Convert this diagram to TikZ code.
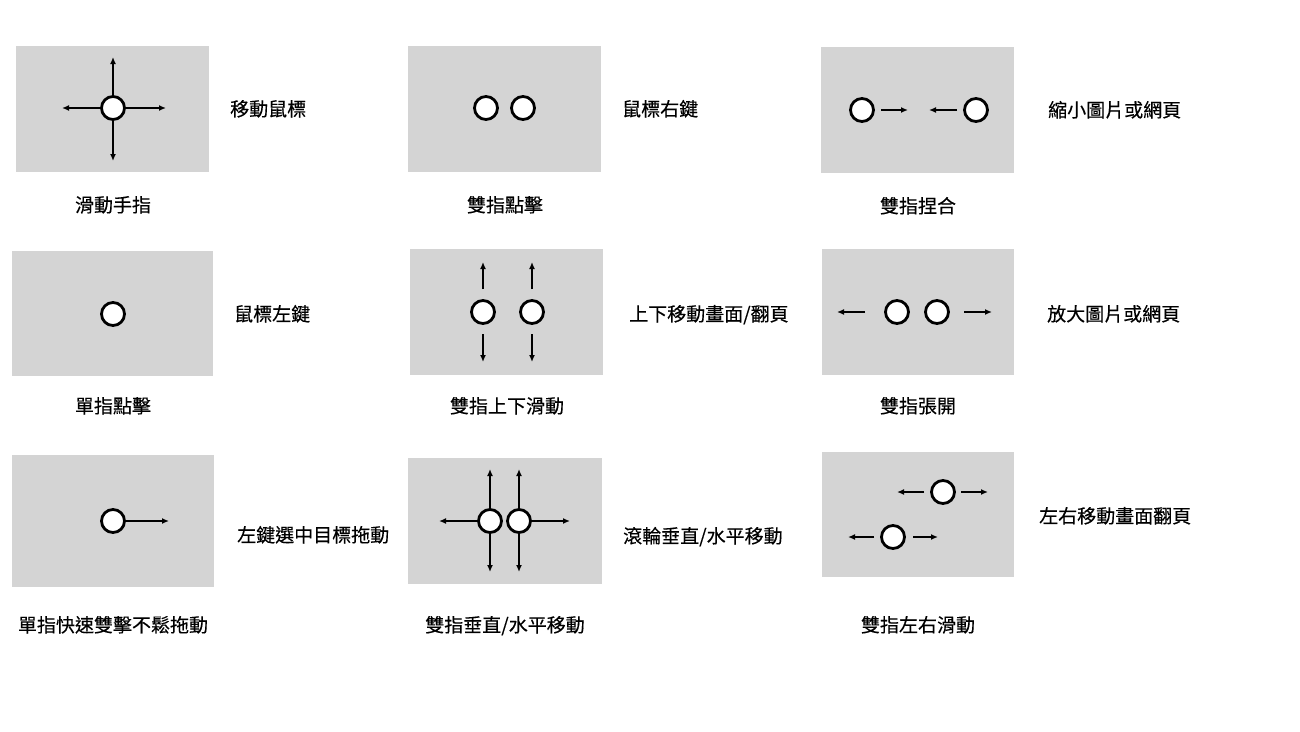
\documentclass[tikz,border=0pt]{standalone}
\usepackage{fontspec}
\setmainfont{Noto Sans CJK TC}[FakeBold=0.3]
\usetikzlibrary{arrows.meta}
\definecolor{boxgray}{RGB}{212,212,212}
\tikzset{
  panel/.style={rectangle, fill=boxgray, draw=none, inner sep=0pt},
  finger/.style={circle, draw=black, fill=white, line width=2.8pt, minimum size=23pt, inner sep=0pt},
  mv/.style={-{Latex[length=7pt,width=6pt]}, line width=1.5pt, black},
  lbl/.style={anchor=base west, inner sep=0pt, font=\fontsize{19}{22}\selectfont},
  captext/.style={anchor=base, inner sep=0pt, font=\fontsize{19}{22}\selectfont},
}
\begin{document}
\begin{tikzpicture}[x=1pt,y=-1pt]
\useasboundingbox (0,0) rectangle (1300,731);
\fill[white] (0,0) rectangle (1300,731);
% ---------- panel 1 ----------
\node[panel, minimum width=193, minimum height=126] (p1) at (112.5,108.5) {};
\node[finger] (f1) at (113,108) {};
\coordinate (a1u) at (113,57);
\coordinate (a1d) at (113,161);
\coordinate (a1l) at (62,108);
\coordinate (a1r) at (166,108);
\draw[mv] (f1.north) -- (a1u);
\draw[mv] (f1.south) -- (a1d);
\draw[mv] (f1.west) -- (a1l);
\draw[mv] (f1.east) -- (a1r);
\node[lbl] (t1) at (230,116) {移動鼠標};
\node[captext] (c1) at (113,212) {滑動手指};
% ---------- panel 2 ----------
\node[panel, minimum width=193, minimum height=126] (p2) at (504.5,108.5) {};
\node[finger] (f2a) at (486,108) {};
\node[finger] (f2b) at (523,108) {};
\node[lbl] (t2) at (622,116) {鼠標右鍵};
\node[captext] (c2) at (505,212) {雙指點擊};
% ---------- panel 3 ----------
\node[panel, minimum width=193, minimum height=126] (p3) at (917.5,110) {};
\node[finger] (f3a) at (862,110) {};
\node[finger] (f3b) at (976,110) {};
\coordinate (a3a) at (881,110);
\coordinate (a3b) at (908,110);
\coordinate (a3c) at (957,110);
\coordinate (a3d) at (929,110);
\draw[mv] (a3a) -- (a3b);
\draw[mv] (a3c) -- (a3d);
\node[lbl] (t3) at (1048,117) {縮小圖片或網頁};
\node[captext] (c3) at (918,213) {雙指捏合};
% ---------- panel 4 ----------
\node[panel, minimum width=201, minimum height=125] (p4) at (112.5,313.5) {};
\node[finger] (f4) at (113,314) {};
\node[lbl] (t4) at (234,321) {鼠標左鍵};
\node[captext] (c4) at (113,413) {單指點擊};
% ---------- panel 5 ----------
\node[panel, minimum width=193, minimum height=126] (p5) at (506.5,312) {};
\node[finger] (f5a) at (483,312) {};
\node[finger] (f5b) at (532,312) {};
\coordinate (a5a1) at (483,289);
\coordinate (a5a2) at (483,262);
\coordinate (a5b1) at (532,289);
\coordinate (a5b2) at (532,262);
\coordinate (a5a3) at (483,334);
\coordinate (a5a4) at (483,362);
\coordinate (a5b3) at (532,334);
\coordinate (a5b4) at (532,362);
\draw[mv] (a5a1) -- (a5a2);
\draw[mv] (a5b1) -- (a5b2);
\draw[mv] (a5a3) -- (a5a4);
\draw[mv] (a5b3) -- (a5b4);
\node[lbl] (t5) at (629,321) {上下移動畫面/翻頁};
\node[captext] (c5) at (507,413) {雙指上下滑動};
% ---------- panel 6 ----------
\node[panel, minimum width=192, minimum height=126] (p6) at (918,312) {};
\node[finger] (f6a) at (897,312) {};
\node[finger] (f6b) at (937,312) {};
\coordinate (a6a) at (865,312);
\coordinate (a6b) at (837,312);
\coordinate (a6c) at (964,312);
\coordinate (a6d) at (992,312);
\draw[mv] (a6a) -- (a6b);
\draw[mv] (a6c) -- (a6d);
\node[lbl] (t6) at (1047,321) {放大圖片或網頁};
\node[captext] (c6) at (918,413) {雙指張開};
% ---------- panel 7 ----------
\node[panel, minimum width=202, minimum height=132] (p7) at (113,521) {};
\node[finger] (f7) at (113,521) {};
\coordinate (a7) at (169,521);
\draw[mv] (f7.east) -- (a7);
\node[lbl] (t7) at (237,542) {左鍵選中目標拖動};
\node[captext] (c7) at (113,632) {單指快速雙擊不鬆拖動};
% ---------- panel 8 ----------
\node[panel, minimum width=194, minimum height=126] (p8) at (505,521) {};
\node[finger] (f8a) at (490,521) {};
\node[finger] (f8b) at (519,521) {};
\coordinate (a8u1) at (490,469);
\coordinate (a8u2) at (519,469);
\coordinate (a8d1) at (490,572);
\coordinate (a8d2) at (519,572);
\coordinate (a8l) at (439,521);
\coordinate (a8r) at (570,521);
\draw[mv] (f8a.north) -- (a8u1);
\draw[mv] (f8b.north) -- (a8u2);
\draw[mv] (f8a.south) -- (a8d1);
\draw[mv] (f8b.south) -- (a8d2);
\draw[mv] (f8a.west) -- (a8l);
\draw[mv] (f8b.east) -- (a8r);
\node[lbl] (t8) at (623,543) {滾輪垂直/水平移動};
\node[captext] (c8) at (505,632) {雙指垂直/水平移動};
% ---------- panel 9 ----------
\node[panel, minimum width=192, minimum height=125] (p9) at (918,514.5) {};
\node[finger] (f9a) at (943,492) {};
\node[finger] (f9b) at (893,537) {};
\coordinate (a9a) at (924,492);
\coordinate (a9b) at (897,492);
\coordinate (a9c) at (961,492);
\coordinate (a9d) at (988,492);
\coordinate (a9e) at (874,537);
\coordinate (a9f) at (848,537);
\coordinate (a9g) at (913,537);
\coordinate (a9h) at (938,537);
\draw[mv] (a9a) -- (a9b);
\draw[mv] (a9c) -- (a9d);
\draw[mv] (a9e) -- (a9f);
\draw[mv] (a9g) -- (a9h);
\node[lbl] (t9) at (1039,523) {左右移動畫面翻頁};
\node[captext] (c9) at (918,632) {雙指左右滑動};
\end{tikzpicture}
\end{document}
